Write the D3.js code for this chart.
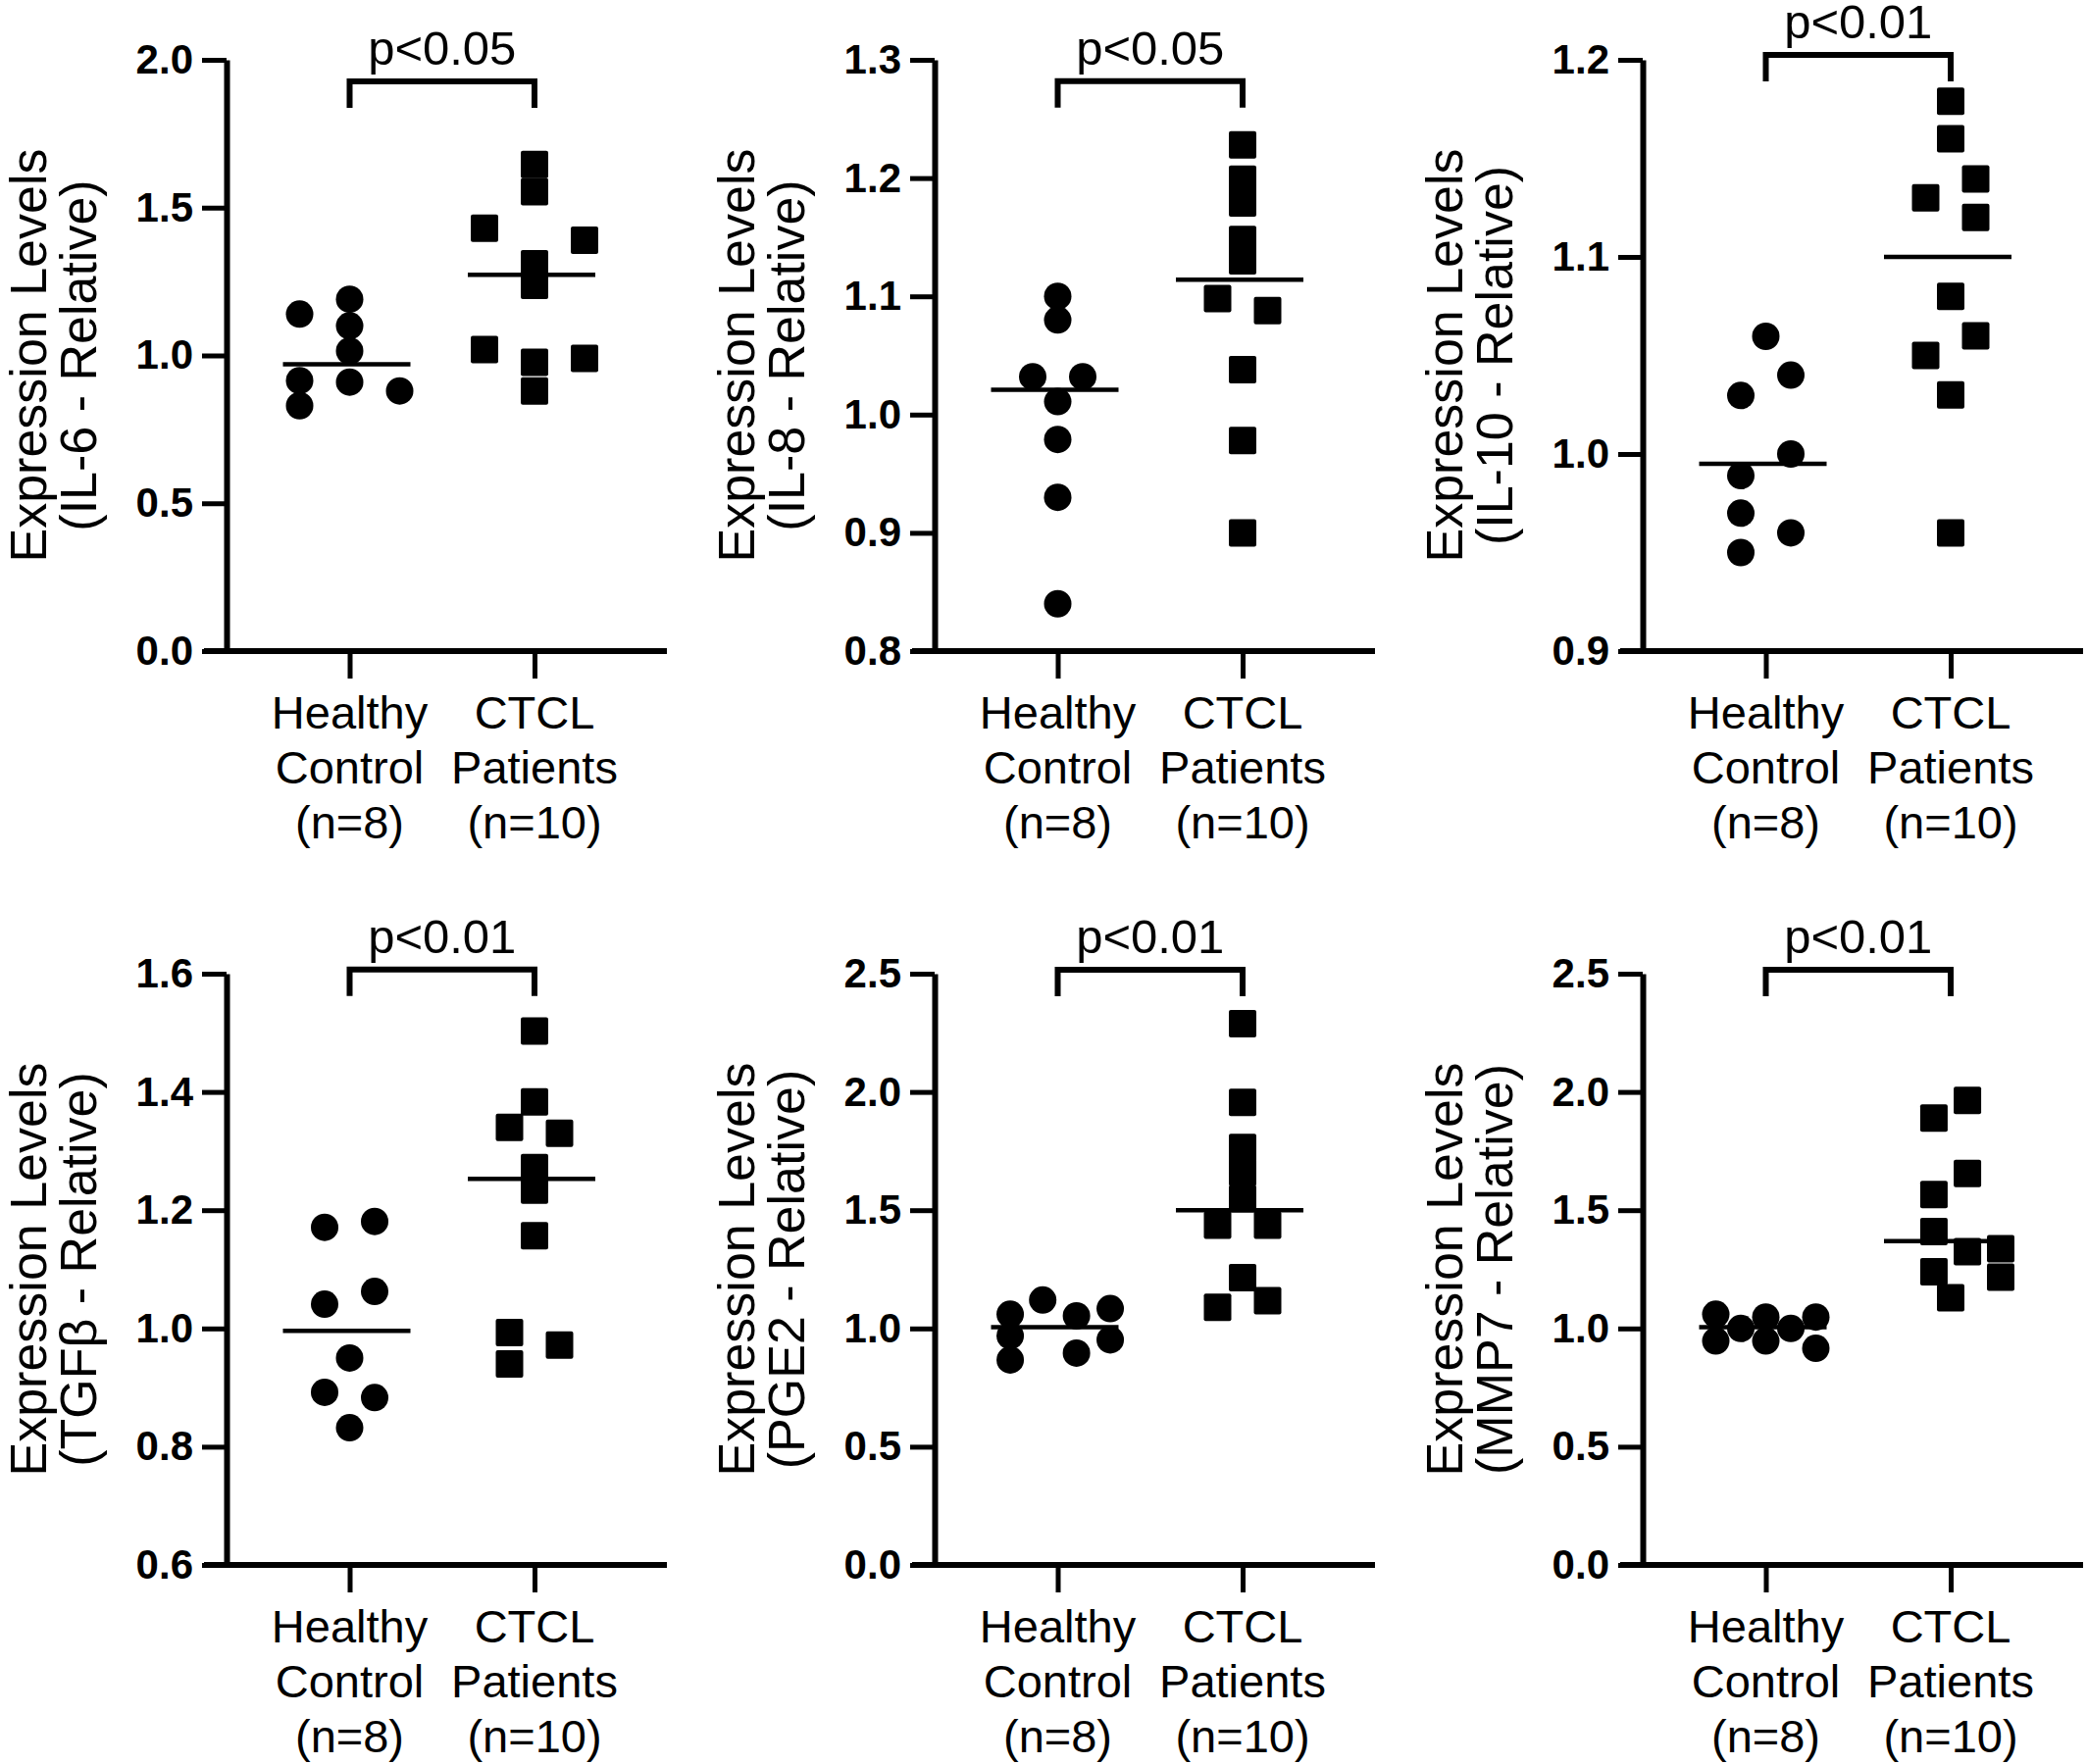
<!DOCTYPE html>
<html>
<head>
<meta charset="utf-8">
<script src="https://cdn.jsdelivr.net/npm/d3@7"></script>
<style>
  html, body { margin: 0; padding: 0; background: #fff; }
  svg { display: block; }
  text { font-family: 'Liberation Sans', Arial, sans-serif; fill: #000; }
</style>
</head>
<body>
<div id="chart"></div>
<script>
// groups on the x axis
const groupKeys = ['healthy', 'ctcl'];
const groupLines = [['Healthy', 'Control', '(n=8)'], ['CTCL', 'Patients', '(n=10)']];

// IL-6
const il6Healthy = [1.14, 0.915, 0.83, 1.19, 1.10, 1.015, 0.91, 0.88];
const il6HealthyLane = [-2, -2, -2, 0, 0, 0, 0, 2];
const il6Ctcl = [1.646, 1.554, 1.31, 1.237, 0.977, 0.88, 1.43, 1.02, 1.39, 0.99];
const il6CtclLane = [0, 0, 0, 0, 0, 0, -2, -2, 2, 2];
const il6Means = [0.97, 1.273];

// IL-8
const il8Healthy = [1.10, 1.08, 1.011, 0.979, 0.93, 0.84, 1.032, 1.032];
const il8HealthyLane = [0, 0, 0, 0, 0, 0, -1, 1];
const il8Ctcl = [1.228, 1.199, 1.179, 1.148, 1.130, 1.038, 0.978, 0.90, 1.098, 1.088];
const il8CtclLane = [0, 0, 0, 0, 0, 0, 0, 0, -1, 1];
const il8Means = [1.021, 1.114];

// IL-10
const il10Healthy = [1.0597, 1.04, 1.0, 0.96, 1.0297, 0.989, 0.97, 0.95];
const il10HealthyLane = [0, 1, 1, 1, -1, -1, -1, -1];
const il10Ctcl = [1.179, 1.16, 1.08, 1.03, 0.96, 1.1395, 1.12, 1.06, 1.13, 1.05];
const il10CtclLane = [0, 0, 0, 0, 0, 1, 1, 1, -1, -1];
const il10Means = [0.995, 1.10];

// TGFb
const tgfHealthy = [1.171, 1.041, 0.892, 1.181, 1.0625, 0.883, 0.95, 0.832];
const tgfHealthyLane = [-1, -1, -1, 1, 1, 1, 0, 0];
const tgfCtcl = [1.503, 1.383, 1.272, 1.234, 1.157, 1.34, 0.993, 0.94, 1.33, 0.972];
const tgfCtclLane = [0, 0, 0, 0, 0, -1, -1, -1, 1, 1];
const tgfMeans = [0.996, 1.253];

// PGE2
const pgeHealthy = [1.06, 0.969, 0.867, 1.12, 1.053, 0.896, 1.084, 0.952];
const pgeHealthyLane = [-1.9, -1.9, -1.9, -0.6, 0.75, 0.75, 2.1, 2.1];
const pgeCtcl = [2.289, 1.956, 1.765, 1.66, 1.548, 1.437, 1.437, 1.215, 1.117, 1.089];
const pgeCtclLane = [0, 0, 0, 0, 0, -1, 1, 0, 1, -1];
const pgeMeans = [1.005, 1.50];

// MMP7
const mmpHealthy = [1.06, 0.947, 1.0, 1.048, 0.947, 1.0, 1.048, 0.916];
const mmpHealthyLane = [-2, -2, -1, 0, 0, 1, 2, 2];
const mmpCtcl = [1.964, 1.89, 1.655, 1.566, 1.41, 1.325, 1.337, 1.217, 1.24, 1.13];
const mmpCtclLane = [0.67, -0.67, 0.67, -0.67, -0.67, 0.67, 2, 2, -0.67, 0];
const mmpMeans = [1.005, 1.369];

const panelDefs = [
  { label: '(IL-6 - Relative)', domain: [0, 2.0], ticks: [0, 0.5, 1.0, 1.5, 2.0], p: 'p<0.05', bracketAt: 1.927,
    healthy: il6Healthy, healthyLane: il6HealthyLane, ctcl: il6Ctcl, ctclLane: il6CtclLane, means: il6Means },
  { label: '(IL-8 - Relative)', domain: [0.8, 1.3], ticks: [0.8, 0.9, 1.0, 1.1, 1.2, 1.3], p: 'p<0.05', bracketAt: 1.282,
    healthy: il8Healthy, healthyLane: il8HealthyLane, ctcl: il8Ctcl, ctclLane: il8CtclLane, means: il8Means },
  { label: '(IL-10 - Relative)', domain: [0.9, 1.2], ticks: [0.9, 1.0, 1.1, 1.2], p: 'p<0.01', bracketAt: 1.2025,
    healthy: il10Healthy, healthyLane: il10HealthyLane, ctcl: il10Ctcl, ctclLane: il10CtclLane, means: il10Means },
  { label: '(TGFβ - Relative)', domain: [0.6, 1.6], ticks: [0.6, 0.8, 1.0, 1.2, 1.4, 1.6], p: 'p<0.01', bracketAt: 1.607,
    healthy: tgfHealthy, healthyLane: tgfHealthyLane, ctcl: tgfCtcl, ctclLane: tgfCtclLane, means: tgfMeans },
  { label: '(PGE2 - Relative)', domain: [0, 2.5], ticks: [0, 0.5, 1.0, 1.5, 2.0, 2.5], p: 'p<0.01', bracketAt: 2.517,
    healthy: pgeHealthy, healthyLane: pgeHealthyLane, ctcl: pgeCtcl, ctclLane: pgeCtclLane, means: pgeMeans },
  { label: '(MMP7 - Relative)', domain: [0, 2.5], ticks: [0, 0.5, 1.0, 1.5, 2.0, 2.5], p: 'p<0.01', bracketAt: 2.517,
    healthy: mmpHealthy, healthyLane: mmpHealthyLane, ctcl: mmpCtcl, ctclLane: mmpCtclLane, means: mmpMeans }
];

const width = 2128, height = 1799;
const colX = [231, 953, 1675];
const rowY = [61, 993];
const plotH = 603;
const axisRight = 449;
const laneW = 25.5;
const markSize = 28;
const meanHalf = 65;

const svg = d3.select('#chart').append('svg')
  .attr('width', width)
  .attr('height', height);

const xScale = d3.scalePoint()
  .domain(groupKeys)
  .range([125.5, 314]);

const laneScale = d3.scaleLinear()
  .domain([0, 1])
  .range([0, laneW]);

panelDefs.forEach((def, i) => {
  let g = svg.append('g')
    .attr('transform', `translate(${colX[i % 3]}, ${rowY[Math.floor(i / 3)]})`);

  let yScale = d3.scaleLinear()
    .domain(def.domain)
    .range([plotH, 0]);

  // y axis
  let yAxis = d3.axisLeft(yScale)
    .tickValues(def.ticks)
    .tickFormat(d3.format('.1f'))
    .tickSize(25)
    .tickSizeOuter(0)
    .tickPadding(9);
  let yg = g.append('g').call(yAxis);
  yg.select('.domain').attr('stroke-width', 6).attr('stroke', '#000');
  yg.selectAll('.tick line').attr('stroke-width', 5).attr('stroke', '#000');
  yg.selectAll('.tick text')
    .style('font-family', "'Liberation Sans', Arial, sans-serif")
    .style('font-size', '42px')
    .style('font-weight', 'bold')
    .attr('fill', '#000');

  // x axis
  let xAxis = d3.axisBottom(xScale)
    .tickSize(28)
    .tickSizeOuter(0)
    .tickFormat('');
  let xg = g.append('g')
    .attr('transform', `translate(0, ${plotH})`)
    .call(xAxis);
  xg.select('.domain').remove();
  xg.selectAll('.tick line').attr('stroke-width', 5).attr('stroke', '#000');
  xg.append('line')
    .attr('x1', -23)
    .attr('x2', axisRight)
    .attr('y1', 0)
    .attr('y2', 0)
    .attr('stroke', '#000')
    .attr('stroke-width', 6);

  groupKeys.forEach((k, j) => {
    let t = g.append('text')
      .attr('text-anchor', 'middle')
      .style('font-size', '47px');
    groupLines[j].forEach((line, n) => {
      t.append('tspan')
        .attr('x', xScale(k))
        .attr('y', plotH + 79 + n * 56)
        .text(line);
    });
  });

  // y title
  let title = g.append('text')
    .attr('transform', `translate(0, ${plotH / 2}) rotate(-90)`)
    .attr('text-anchor', 'middle')
    .style('font-size', '52px');
  title.append('tspan').attr('x', 0).attr('y', -184).text('Expression Levels');
  title.append('tspan').attr('x', 0).attr('y', -133).text(def.label);

  // points
  let healthyPts = def.healthy.map((v, n) => ({ v: v, lane: def.healthyLane[n] }));
  let ctclPts = def.ctcl.map((v, n) => ({ v: v, lane: def.ctclLane[n] }));

  g.selectAll('.hc')
    .data(healthyPts)
    .enter()
    .append('circle')
    .attr('class', 'hc')
    .attr('cx', d => xScale('healthy') + laneScale(d.lane))
    .attr('cy', d => yScale(d.v))
    .attr('r', markSize / 2)
    .attr('fill', '#000');

  g.selectAll('.ct')
    .data(ctclPts)
    .enter()
    .append('rect')
    .attr('class', 'ct')
    .attr('x', d => xScale('ctcl') + laneScale(d.lane) - markSize / 2)
    .attr('y', d => yScale(d.v) - markSize / 2)
    .attr('width', markSize)
    .attr('height', markSize)
    .attr('rx', 2)
    .attr('fill', '#000');

  // mean lines
  g.selectAll('.mean')
    .data(def.means)
    .enter()
    .append('line')
    .attr('class', 'mean')
    .attr('x1', (d, n) => xScale(groupKeys[n]) - meanHalf - 3)
    .attr('x2', (d, n) => xScale(groupKeys[n]) + meanHalf - 3)
    .attr('y1', d => yScale(d))
    .attr('y2', d => yScale(d))
    .attr('stroke', '#000')
    .attr('stroke-width', 4.5);

  // significance bracket
  let by = yScale(def.bracketAt);
  let x1 = xScale('healthy'), x2 = xScale('ctcl');
  g.append('path')
    .attr('d', `M${x1},${by + 27}V${by}H${x2}V${by + 27}`)
    .attr('fill', 'none')
    .attr('stroke', '#000')
    .attr('stroke-width', 6);
  g.append('text')
    .attr('x', (x1 + x2) / 2)
    .attr('y', by - 17)
    .attr('text-anchor', 'middle')
    .style('font-size', '49px')
    .text(def.p);
});
</script>
</body>
</html>
